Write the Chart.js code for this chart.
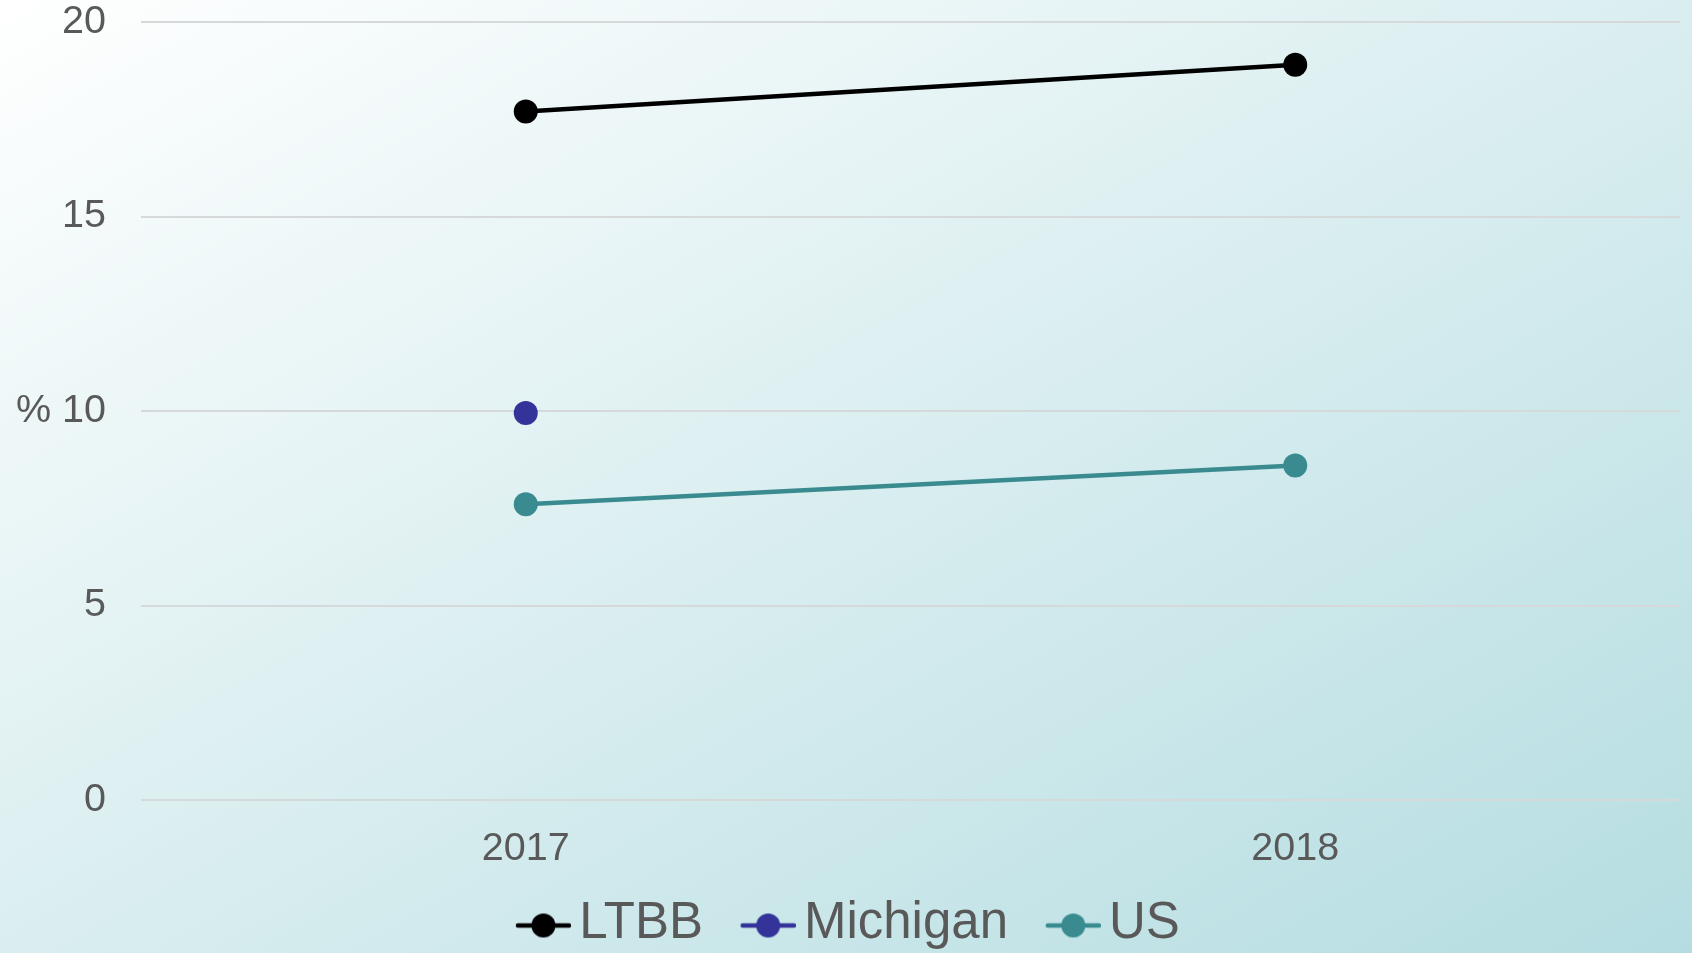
<!DOCTYPE html>
<html><head><meta charset="utf-8">
<script src="https://cdn.jsdelivr.net/npm/chart.js@4/dist/chart.umd.min.js"></script>
<style>
html,body{margin:0;padding:0;overflow:hidden;}
#wrap{width:1692px;height:953px;overflow:hidden;background:linear-gradient(to bottom right,#ffffff,#b5dde1);}
canvas{display:block;}
</style></head><body>
<div id="wrap"><canvas id="c" width="1692" height="959"></canvas></div>
<script>
const years = ['2017', '2018'];
const seriesNames = ['LTBB', 'Michigan', 'US'];
const ltbb = [17.7, 18.9];
const michigan = [9.95, null];
const us = [7.6, 8.6];
const seriesColors = ['#000000', '#333399', '#3a8b90'];
const yTickValues = [0, 5, 10, 15, 20];
const yAxisTitle = '%';

const FONT = "'Liberation Sans', Arial, sans-serif";
const TEXT = '#595959';

function makeMarker(color) {
  const c = document.createElement('canvas');
  c.width = 86; c.height = 40;
  const g = c.getContext('2d');
  const cy = 22;
  g.strokeStyle = color; g.lineWidth = 4.5; g.lineCap = 'round';
  g.beginPath(); g.moveTo(33, cy); g.lineTo(84, cy); g.stroke();
  g.fillStyle = color;
  g.beginPath(); g.arc(58.5, cy, 12, 0, Math.PI * 2); g.fill();
  return c;
}
const markers = seriesColors.map(makeMarker);

const seriesData = [ltbb, michigan, us];
const datasets = seriesNames.map((name, i) => ({
  label: name,
  data: seriesData[i],
  borderColor: seriesColors[i],
  backgroundColor: seriesColors[i],
  pointBackgroundColor: seriesColors[i],
  pointBorderWidth: 0,
  pointRadius: 12,
  pointHoverRadius: 12,
  borderWidth: 4.5,
  tension: 0,
  spanGaps: false,
  clip: false
}));

new Chart(document.getElementById('c'), {
  type: 'line',
  data: { labels: years, datasets },
  options: {
    responsive: false,
    animation: false,
    devicePixelRatio: 1,
    layout: { padding: { left: 0, right: 10, top: 22, bottom: 0 } },
    plugins: {
      tooltip: { enabled: false },
      legend: {
        position: 'bottom',
        align: 'center',
        labels: {
          usePointStyle: true,
          pointStyleWidth: 51.5,
          padding: 24,
          color: TEXT,
          font: { size: 51, family: FONT },
          generateLabels: (chart) => chart.data.datasets.map((d, i) => ({
            text: d.label,
            pointStyle: markers[i],
            fillStyle: d.borderColor,
            strokeStyle: d.borderColor,
            fontColor: TEXT,
            lineWidth: 0,
            hidden: false,
            datasetIndex: i
          }))
        }
      }
    },
    scales: {
      x: {
        offset: true,
        grid: { display: false, drawTicks: false },
        border: { display: false },
        ticks: { color: TEXT, font: { size: 39.5, family: FONT }, padding: 25, maxRotation: 0 },
        afterFit: (s) => { s.height = 74; }
      },
      y: {
        min: yTickValues[0],
        max: yTickValues[yTickValues.length - 1],
        grid: { color: '#d6d9da', lineWidth: 2, drawTicks: false },
        border: { display: false },
        afterBuildTicks: (s) => { s.ticks = yTickValues.map(v => ({ value: v })); },
        ticks: {
          color: TEXT,
          font: { size: 39.5, family: FONT },
          padding: 35,
          callback: (v) => v === 10 ? yAxisTitle + ' ' + v : String(v)
        },
        afterFit: (s) => { s.width = 141; s.paddingTop = 0; s.paddingBottom = 0; }
      }
    }
  }
});
</script>
</body></html>
